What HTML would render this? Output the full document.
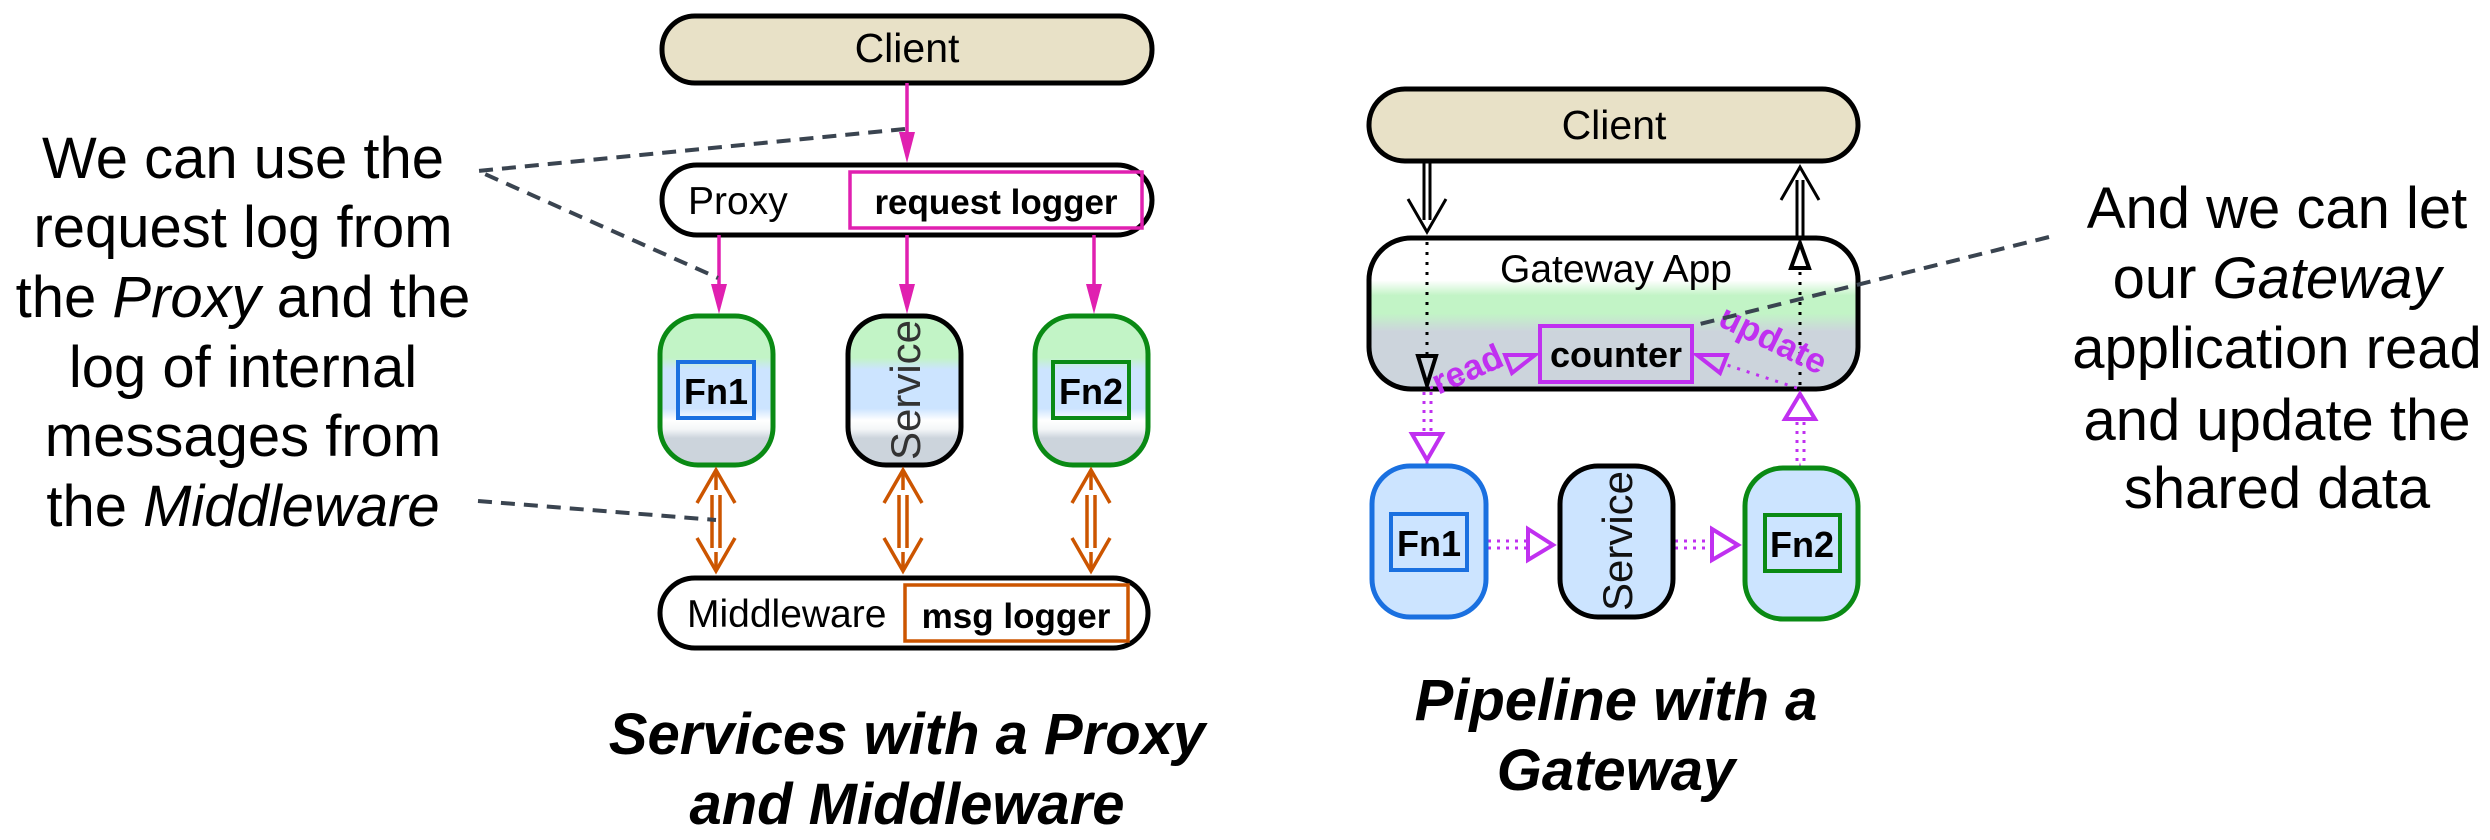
<!DOCTYPE html>
<html><head><meta charset="utf-8"><style>
html,body{margin:0;padding:0;background:#fff;}
svg{display:block;font-family:"Liberation Sans",sans-serif;}
</style></head><body>
<svg width="2490" height="840" viewBox="0 0 2490 840" xmlns="http://www.w3.org/2000/svg">
<defs>
<linearGradient id="fg" x1="0" y1="0" x2="0" y2="1">
<stop offset="0" stop-color="#c2f4c6"/><stop offset="0.28" stop-color="#c2f4c6"/>
<stop offset="0.36" stop-color="#cce4ff"/><stop offset="0.62" stop-color="#cce4ff"/>
<stop offset="0.7" stop-color="#ffffff"/><stop offset="0.76" stop-color="#f4f6f8"/>
<stop offset="0.82" stop-color="#ccd4dc"/><stop offset="1" stop-color="#ccd4dc"/>
</linearGradient>
<linearGradient id="gg" x1="0" y1="0" x2="0" y2="1">
<stop offset="0" stop-color="#ffffff"/><stop offset="0.28" stop-color="#ffffff"/>
<stop offset="0.38" stop-color="#c2f4c6"/><stop offset="0.5" stop-color="#c2f4c6"/>
<stop offset="0.62" stop-color="#ccd4dc"/><stop offset="1" stop-color="#ccd4dc"/>
</linearGradient>
</defs>

<!-- LEFT DIAGRAM -->
<rect x="662" y="16" width="490" height="67" rx="33" fill="#e8e1c7" stroke="#000" stroke-width="5"/>
<text x="907" y="62" font-size="41" text-anchor="middle">Client</text>

<rect x="662" y="165" width="490" height="70" rx="35" fill="#fff" stroke="#000" stroke-width="5"/>
<text x="688" y="214" font-size="39">Proxy</text>
<rect x="850" y="172" width="292" height="56" fill="none" stroke="#e020b0" stroke-width="3.5"/>
<text x="996" y="214" font-size="35" font-weight="bold" text-anchor="middle">request logger</text>

<g stroke="#e020b0" stroke-width="3.5" fill="#e020b0">
<line x1="907" y1="83" x2="907" y2="140"/><polygon stroke="none" points="899,132 915,132 907,163"/>
<line x1="719" y1="235" x2="719" y2="290"/><polygon stroke="none" points="711,284 727,284 719,314"/>
<line x1="907" y1="235" x2="907" y2="290"/><polygon stroke="none" points="899,284 915,284 907,314"/>
<line x1="1094" y1="235" x2="1094" y2="290"/><polygon stroke="none" points="1086,284 1102,284 1094,314"/>
</g>

<rect x="660" y="316" width="113" height="149" rx="38" fill="url(#fg)" stroke="#0a8a14" stroke-width="5"/>
<rect x="678" y="362" width="76" height="56" fill="none" stroke="#1a70e0" stroke-width="4"/>
<text x="716" y="404" font-size="36" font-weight="bold" text-anchor="middle">Fn1</text>

<rect x="848" y="316" width="113" height="149" rx="38" fill="url(#fg)" stroke="#000" stroke-width="5"/>
<text transform="translate(920,390) rotate(-90)" font-size="42" fill="#333" text-anchor="middle">Service</text>

<rect x="1035" y="316" width="113" height="149" rx="38" fill="url(#fg)" stroke="#0a8a14" stroke-width="5"/>
<rect x="1053" y="362" width="76" height="56" fill="none" stroke="#0a8a14" stroke-width="4"/>
<text x="1091" y="404" font-size="36" font-weight="bold" text-anchor="middle">Fn2</text>

<g stroke="#cc5500" stroke-width="3.5" fill="none">
<g id="oa">
<line x1="712" y1="495" x2="712" y2="548"/><line x1="720" y1="495" x2="720" y2="548"/>
<polyline points="697,503 716,470 735,503"/>
<polyline points="697,538 716,571 735,538"/>
<line x1="716" y1="472" x2="716" y2="490"/><line x1="716" y1="552" x2="716" y2="569"/>
</g>
<use href="#oa" x="187"/><use href="#oa" x="375"/>
</g>

<rect x="660" y="578" width="488" height="70" rx="35" fill="#fff" stroke="#000" stroke-width="5"/>
<text x="687" y="627" font-size="39">Middleware</text>
<rect x="905" y="585" width="223" height="56" fill="none" stroke="#cc5500" stroke-width="3.5"/>
<text x="1016" y="628" font-size="35" font-weight="bold" text-anchor="middle">msg logger</text>

<g stroke="#3a4450" stroke-width="4" stroke-dasharray="14,9" fill="none">
<polyline points="905,129 478,171 718,278"/>
<line x1="478" y1="501" x2="716" y2="520"/>
</g>

<g font-size="58" text-anchor="middle">
<text x="243" y="178">We can use the</text>
<text x="243" y="247">request log from</text>
<text x="243" y="317">the <tspan font-style="italic">Proxy</tspan> and the</text>
<text x="243" y="387">log of internal</text>
<text x="243" y="456">messages from</text>
<text x="243" y="526">the <tspan font-style="italic">Middleware</tspan></text>
</g>

<g font-size="58" font-weight="bold" font-style="italic" text-anchor="middle">
<text x="907" y="754">Services with a Proxy</text>
<text x="907" y="824">and Middleware</text>
</g>

<!-- RIGHT DIAGRAM -->
<rect x="1369" y="89" width="489" height="72" rx="36" fill="#e8e1c7" stroke="#000" stroke-width="5"/>
<text x="1614" y="139" font-size="41" text-anchor="middle">Client</text>

<rect x="1369" y="238" width="489" height="151" rx="42" fill="url(#gg)" stroke="#000" stroke-width="5"/>
<text x="1616" y="282" font-size="39" text-anchor="middle">Gateway App</text>
<rect x="1540" y="326" width="152" height="56" fill="none" stroke="#c030f0" stroke-width="4"/>
<text x="1616" y="367" font-size="36" font-weight="bold" text-anchor="middle">counter</text>

<g stroke="#000" stroke-width="3" fill="none">
<line x1="1424" y1="162" x2="1424" y2="220"/><line x1="1430" y1="162" x2="1430" y2="220"/>
<polyline points="1408,199 1427,232 1446,199"/>
<line x1="1797" y1="180" x2="1797" y2="237"/><line x1="1803" y1="180" x2="1803" y2="237"/>
<polyline points="1781,200 1800,167 1819,200"/>
<line x1="1427" y1="242" x2="1427" y2="355" stroke-dasharray="3,7" stroke-width="3"/>
<polygon points="1418,356 1436,356 1427,385" stroke-width="4"/>
<line x1="1800" y1="272" x2="1800" y2="388" stroke-dasharray="3,7" stroke-width="3"/>
<polygon points="1791,268 1809,268 1800,243" stroke-width="4"/>
</g>

<g stroke="#c030f0" fill="none">
<line x1="1430" y1="388" x2="1505" y2="365" stroke-width="3" stroke-dasharray="3,7"/>
<polygon points="1505,355 1535,355 1512,373" stroke-width="4"/>
<line x1="1797" y1="388" x2="1727" y2="365" stroke-width="3" stroke-dasharray="3,7"/>
<polygon points="1697,355 1727,355 1720,373" stroke-width="4"/>
<line x1="1424" y1="392" x2="1424" y2="435" stroke-width="3" stroke-dasharray="3,6"/>
<line x1="1431" y1="392" x2="1431" y2="435" stroke-width="3" stroke-dasharray="3,6"/>
<polygon points="1412,434 1442,434 1427,460" stroke-width="4"/>
<line x1="1427" y1="462" x2="1427" y2="478" stroke-width="3" stroke-dasharray="3,6"/>
<polygon points="1420,479 1434,479 1427,505" stroke-width="4"/>
<line x1="1797" y1="422" x2="1797" y2="467" stroke-width="3" stroke-dasharray="3,6"/>
<line x1="1804" y1="422" x2="1804" y2="467" stroke-width="3" stroke-dasharray="3,6"/>
<polygon points="1785,419 1815,419 1800,394" stroke-width="4"/>
<polygon points="1793,496 1807,496 1800,470" stroke-width="4"/>
<line x1="1800" y1="498" x2="1800" y2="514" stroke-width="3" stroke-dasharray="3,6"/>
<line x1="1488" y1="541" x2="1528" y2="541" stroke-width="3" stroke-dasharray="3,6"/>
<line x1="1488" y1="548" x2="1528" y2="548" stroke-width="3" stroke-dasharray="3,6"/>
<polygon points="1528,529 1528,560 1553,545" stroke-width="4"/>
<line x1="1675" y1="541" x2="1712" y2="541" stroke-width="3" stroke-dasharray="3,6"/>
<line x1="1675" y1="548" x2="1712" y2="548" stroke-width="3" stroke-dasharray="3,6"/>
<polygon points="1712,529 1712,560 1738,545" stroke-width="4"/>
</g>
<text transform="translate(1472,380) rotate(-24)" font-size="35" font-weight="bold" fill="#c030f0" text-anchor="middle">read</text>
<text transform="translate(1768,350) rotate(26)" font-size="35" font-weight="bold" fill="#c030f0" text-anchor="middle">update</text>

<rect x="1372" y="466" width="114" height="151" rx="38" fill="#cce4ff" stroke="#1a70e0" stroke-width="5"/>
<rect x="1391" y="514" width="76" height="56" fill="none" stroke="#1a70e0" stroke-width="4"/>
<text x="1429" y="556" font-size="36" font-weight="bold" text-anchor="middle">Fn1</text>

<rect x="1560" y="466" width="113" height="151" rx="38" fill="#cce4ff" stroke="#000" stroke-width="5"/>
<text transform="translate(1632,541) rotate(-90)" font-size="42" fill="#111" text-anchor="middle">Service</text>

<rect x="1745" y="468" width="113" height="151" rx="38" fill="#cce4ff" stroke="#0a8a14" stroke-width="5"/>
<rect x="1765" y="515" width="75" height="56" fill="none" stroke="#0a8a14" stroke-width="4"/>
<text x="1802" y="557" font-size="36" font-weight="bold" text-anchor="middle">Fn2</text>

<line x1="2049" y1="237" x2="1692" y2="326" stroke="#3a4450" stroke-width="4" stroke-dasharray="14,9"/>

<g font-size="58" text-anchor="middle">
<text x="2277" y="228">And we can let</text>
<text x="2277" y="298">our <tspan font-style="italic">Gateway</tspan></text>
<text x="2277" y="368">application read</text>
<text x="2277" y="440">and update the</text>
<text x="2277" y="508">shared data</text>
</g>

<g font-size="58" font-weight="bold" font-style="italic" text-anchor="middle">
<text x="1616" y="720">Pipeline with a</text>
<text x="1616" y="790">Gateway</text>
</g>
</svg>
</body></html>
